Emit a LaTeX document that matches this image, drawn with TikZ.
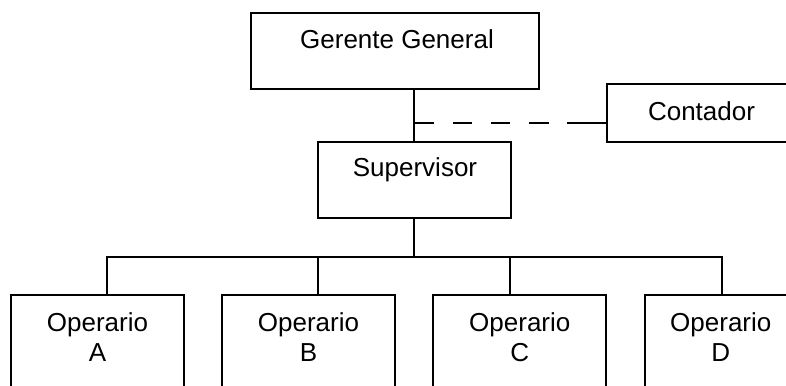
\documentclass[tikz,border=0pt]{standalone}
\usepackage{fontspec}
\setmainfont{Liberation Sans}
\begin{document}
\begin{tikzpicture}[x=1pt,y=-1pt,
  box/.style={draw=black, line width=1.8pt, rectangle, inner sep=0pt},
  txt/.style={inner sep=0pt, anchor=base, font=\fontsize{26}{30}\selectfont},
  link/.style={draw=black, line width=1.8pt},
  dlink/.style={draw=black, line width=1.8pt, dash pattern=on 19.5pt off 18.8pt}]
\useasboundingbox (0,0) rectangle (786,385);
\clip (0,0) rectangle (786,385);
% boxes
\node[box, minimum width=288pt, minimum height=76pt] (gg) at (395,51) {};
\node[box, minimum width=193pt, minimum height=76pt] (sup) at (414.5,180) {};
\node[box, minimum width=190pt, minimum height=58pt] (cont) at (702,113) {};
\node[box, minimum width=173pt, minimum height=110pt] (opA) at (97.5,350) {};
\node[box, minimum width=173pt, minimum height=110pt] (opB) at (308.5,350) {};
\node[box, minimum width=173pt, minimum height=110pt] (opC) at (519.5,350) {};
\node[box, minimum width=152pt, minimum height=110pt] (opD) at (721,350) {};
% texts
\node[txt] (ggt) at (397,48.3) {Gerente General};
\node[txt] (supt) at (415,176.7) {Supervisor};
\node[txt] (contt) at (701.5,120.7) {Contador};
\node[txt] (opAt1) at (97.5,331) {Operario};
\node[txt] (opAt2) at (97.5,361.7) {A};
\node[txt] (opBt1) at (308.5,331) {Operario};
\node[txt] (opBt2) at (308.5,361.7) {B};
\node[txt] (opCt1) at (519.8,331) {Operario};
\node[txt] (opCt2) at (519.8,361.7) {C};
\node[txt] (opDt1) at (720.8,331) {Operario};
\node[txt] (opDt2) at (720.8,361.7) {D};
% connectors
\coordinate (j1) at (414.3,123);
\coordinate (dend) at (567,123);
\coordinate (hA) at (106.7,256.7);
\coordinate (hB) at (318.3,256.7);
\coordinate (hS) at (414.3,256.7);
\coordinate (hC) at (510,256.7);
\coordinate (hD) at (721.7,256.7);
\draw[link] (j1 |- gg.south) -- (j1 |- sup.north);
\draw[dlink] (j1) -- (dend);
\draw[link] (dend) -- (cont.west |- dend);
\draw[link] (hS |- sup.south) -- (hS);
\draw[link, line cap=rect] (hA) -- (hD);
\draw[link] (hA) -- (hA |- opA.north);
\draw[link] (hB) -- (hB |- opB.north);
\draw[link] (hC) -- (hC |- opC.north);
\draw[link] (hD) -- (hD |- opD.north);
\end{tikzpicture}
\end{document}
